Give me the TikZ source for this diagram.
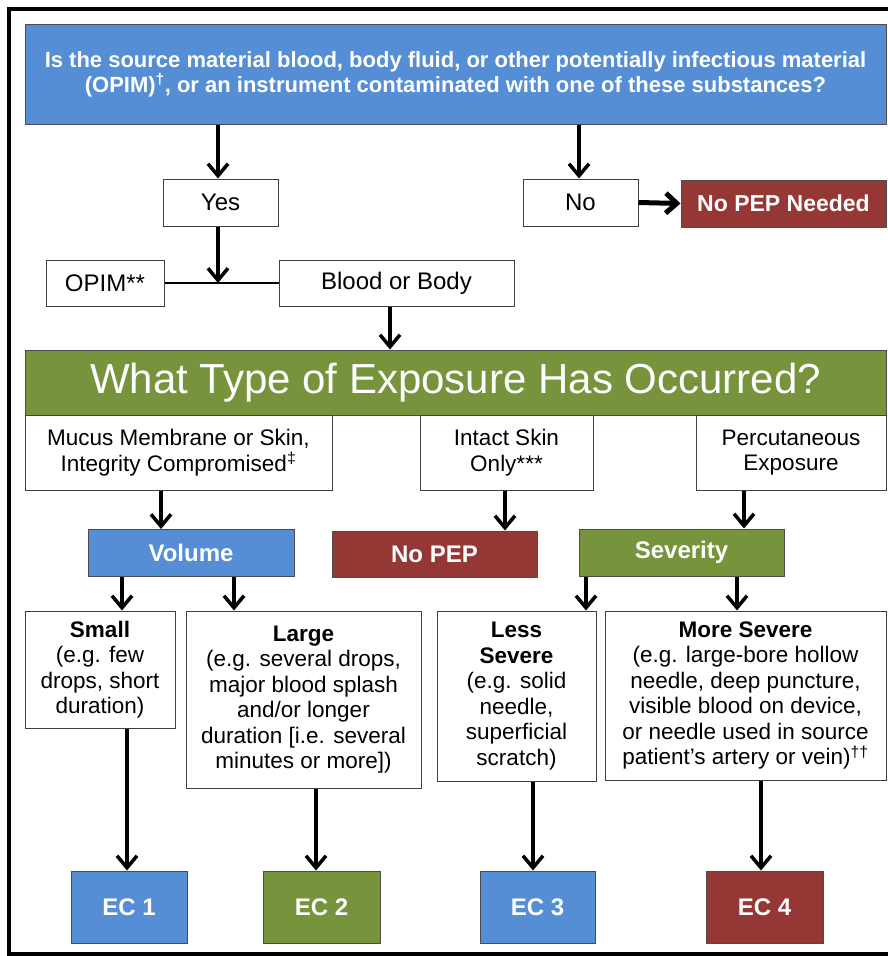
\documentclass[tikz,border=0pt]{standalone}
\usepackage{fontspec}
\setmainfont{Liberation Sans}
\usetikzlibrary{arrows.meta}
\definecolor{cblue}{HTML}{558ED5}
\definecolor{cgreen}{HTML}{77933C}
\definecolor{cred}{HTML}{953735}
\begin{document}
\begin{tikzpicture}[x=1pt,y=-1pt,
  wbox/.style={draw=black!75, fill=white, line width=1pt, inner sep=0pt, align=center,
    font=\fontsize{22.5}{25.5}\selectfont},
  sbox/.style={wbox, font=\fontsize{24}{26}\selectfont},
  cbox/.style={draw=black!70, line width=1pt, inner sep=0pt, align=center, text=white,
    font=\fontsize{24}{25}\selectfont\bfseries},
  arr/.style={line width=3.5pt, -{Straight Barb[length=12pt,width=20pt]}},
  bigarr/.style={line width=5pt, -{Straight Barb[length=11pt,width=20pt]}}
]
\useasboundingbox (0,0) rectangle (888,956);
\fill[white] (0,0) rectangle (888,956);
% outer frame
\draw[line width=3.5pt] (888,9) -- (9,9) -- (9,954) -- (888,954);

% nodes
\node[cbox, fill=cblue, minimum width=861pt, minimum height=100pt,
  font=\fontsize{22}{25}\selectfont\bfseries] (q1) at (455.5,74)
  {Is the source material blood, body fluid, or other potentially infectious material\\
   (OPIM)\textsuperscript{†}, or an instrument contaminated with one of these substances?};
\node[sbox, minimum width=115pt, minimum height=47pt] (yes) at (220.5,202.5) {Yes};
\node[sbox, minimum width=115pt, minimum height=47pt] (no) at (580.5,202.5) {No};
\node[cbox, fill=cred, minimum width=205pt, minimum height=47pt,
  font=\fontsize{23}{25}\selectfont\bfseries] (nopepa) at (783.5,203.5) {No PEP Needed};
\node[sbox, minimum width=118pt, minimum height=46pt] (opim) at (105,283) {OPIM**};
\node[sbox, minimum width=235pt, minimum height=46pt] (blood) at (396.5,283) {Blood or Body};
\node[draw=black!70, line width=1pt, fill=cgreen, text=white, inner sep=0pt,
  minimum width=861pt, minimum height=65pt, font=\fontsize{42}{42}\selectfont] (q2) at (455.5,382.5)
  {What Type of Exposure Has Occurred?};
\node[wbox, minimum width=307pt, minimum height=75pt] (mucus) at (178.5,452.5)
  {Mucus Membrane or Skin,\\Integrity Compromised\textsuperscript{‡}};
\node[wbox, minimum width=173pt, minimum height=75pt] (intact) at (506.5,452.5)
  {Intact Skin\\Only***};
\node[wbox, minimum width=190pt, minimum height=75pt] (perc) at (791,452.5)
  {Percutaneous\\Exposure};
\node[cbox, fill=cblue, minimum width=206pt, minimum height=47pt] (volume) at (191,553) {Volume};
\node[cbox, fill=cred, minimum width=205pt, minimum height=46pt] (nopepb) at (434.5,554) {No PEP};
\node[cbox, fill=cgreen, minimum width=205pt, minimum height=47pt] (severity) at (681.5,552.5) {Severity};
\node[wbox, minimum width=150pt, minimum height=117pt] (small) at (100,669.5)
  {\textbf{Small}\\(e.g. few\\drops, short\\duration)};
\node[wbox, minimum width=235pt, minimum height=177pt] (large) at (303.5,699.5)
  {\textbf{Large}\\(e.g. several drops,\\major blood splash\\and/or longer\\duration [i.e. several\\minutes or more])};
\node[wbox, minimum width=159pt, minimum height=170pt] (less) at (516.5,696)
  {\textbf{Less}\\\textbf{Severe}\\(e.g. solid\\needle,\\superficial\\scratch)};
\node[wbox, minimum width=281pt, minimum height=169pt] (more) at (745.5,695.5)
  {\textbf{More Severe}\\(e.g. large-bore hollow\\needle, deep puncture,\\visible blood on device,\\or needle used in source\\patient’s artery or vein)\textsuperscript{††}};
\node[cbox, fill=cblue, minimum width=116pt, minimum height=72pt] (ec1) at (129,907) {EC 1};
\node[cbox, fill=cgreen, minimum width=117pt, minimum height=72pt] (ec2) at (321.5,907) {EC 2};
\node[cbox, fill=cblue, minimum width=115pt, minimum height=72pt] (ec3) at (537.5,907) {EC 3};
\node[cbox, fill=cred, minimum width=117pt, minimum height=72pt] (ec4) at (764.5,907) {EC 4};

% x positions of connectors
\coordinate (xa) at (218,0);
\coordinate (xb) at (579,0);
\coordinate (xc) at (390,0);
\coordinate (xd) at (161,0);
\coordinate (xe) at (505,0);
\coordinate (xf) at (744,0);
\coordinate (xg) at (122,0);
\coordinate (xh) at (234,0);
\coordinate (xi) at (586,0);
\coordinate (xj) at (737,0);
\coordinate (xk) at (127,0);
\coordinate (xl) at (316,0);
\coordinate (xm) at (533,0);
\coordinate (xn) at (761,0);

% connectors
\draw[arr] (q1.south -| xa) -- (yes.north -| xa);
\draw[arr] (q1.south -| xb) -- (no.north -| xb);
\draw[bigarr] (no.east) -- (nopepa.west);
\draw[line width=1.5pt] (opim.east) -- (blood.west);
\draw[arr] (yes.south -| xa) -- (opim.east -| xa);
\draw[arr] (blood.south -| xc) -- (q2.north -| xc);
\draw[arr] (mucus.south -| xd) -- (volume.north -| xd);
\draw[arr] (intact.south -| xe) -- (nopepb.north -| xe);
\draw[arr] (perc.south -| xf) -- (severity.north -| xf);
\draw[arr] (volume.south -| xg) -- (small.north -| xg);
\draw[arr] (volume.south -| xh) -- (large.north -| xh);
\draw[arr] (severity.south -| xi) -- (less.north -| xi);
\draw[arr] (severity.south -| xj) -- (more.north -| xj);
\draw[arr] (small.south -| xk) -- (ec1.north -| xk);
\draw[arr] (large.south -| xl) -- (ec2.north -| xl);
\draw[arr] (less.south -| xm) -- (ec3.north -| xm);
\draw[arr] (more.south -| xn) -- (ec4.north -| xn);
\end{tikzpicture}
\end{document}
